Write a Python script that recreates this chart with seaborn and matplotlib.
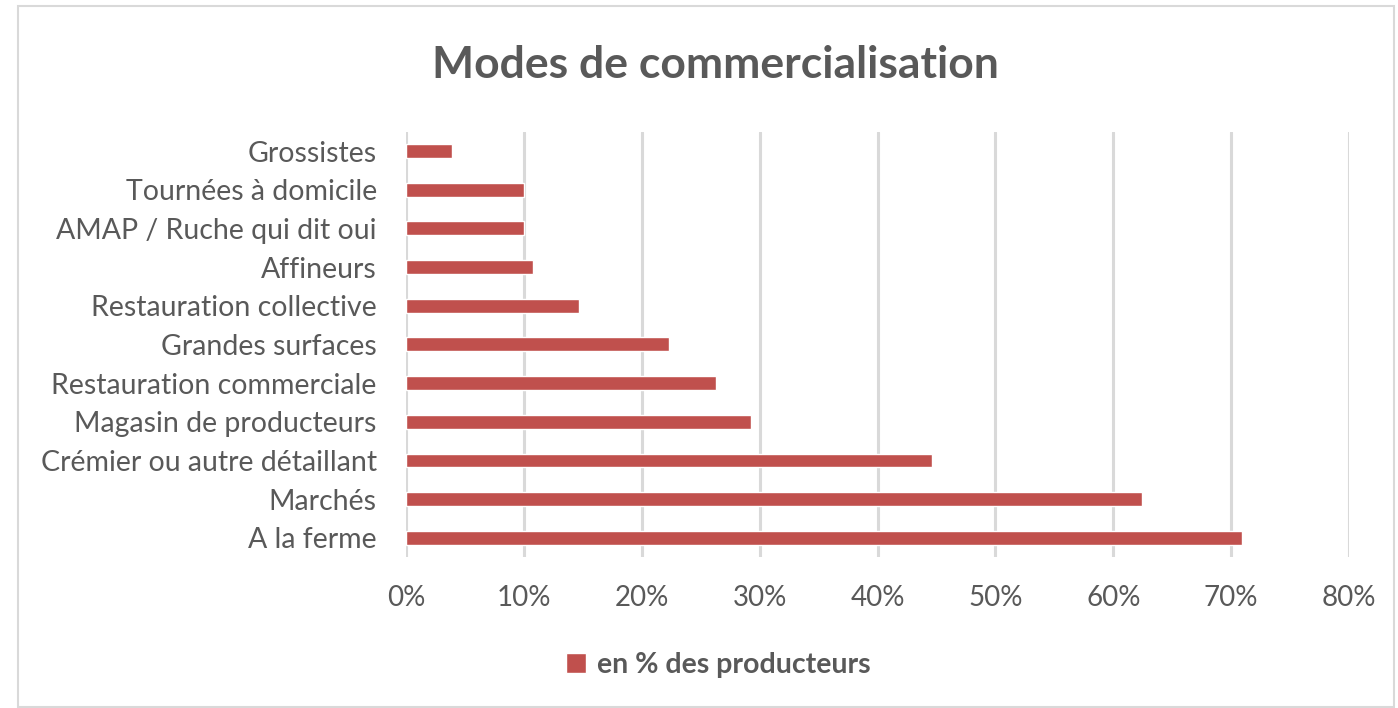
import pandas as pd
import matplotlib.pyplot as plt
import seaborn as sns
from matplotlib.patches import Rectangle
from matplotlib.ticker import PercentFormatter

categories = ["Grossistes", "Tournées à domicile", "AMAP / Ruche qui dit oui", "Affineurs",
              "Restauration collective", "Grandes surfaces", "Restauration commerciale",
              "Magasin de producteurs", "Crémier ou autre détaillant", "Marchés", "A la ferme"]
values = [3.9, 10.0, 10.0, 10.8, 14.7, 22.3, 26.3, 29.3, 44.6, 62.4, 70.9]
series_name = "en % des producteurs"

df = pd.DataFrame({"mode": categories, "pct": values, "serie": series_name})

sns.set_style("white")
plt.rcParams["font.family"] = ["Lato", "DejaVu Sans"]
grey = "#595959"

fig = plt.figure(figsize=(13.98, 7.08), dpi=100)
ax = fig.add_axes([0.2904, 0.213, 0.6746, 0.601])

sns.barplot(data=df, x="pct", y="mode", hue="serie", palette=["#C0504D"],
            saturation=1, width=0.36, orient="h", ax=ax, zorder=3)

ax.set_xlim(0, 80)
ax.set_xticks(range(0, 81, 10))
ax.xaxis.set_major_formatter(PercentFormatter(decimals=0))
ax.grid(axis="x", color="#D9D9D9", linewidth=2.2, zorder=0)
ax.set_axisbelow(True)
for s in ax.spines.values():
    s.set_visible(False)
ax.set_xlabel("")
ax.set_ylabel("")
ax.tick_params(axis="x", labelsize=20, colors=grey, length=0, pad=20)
ax.tick_params(axis="y", labelsize=20.5, colors=grey, length=0, pad=21)

fig.suptitle("Modes de commercialisation", x=0.512, y=0.937, fontsize=32,
             fontweight="bold", color=grey)

leg = ax.legend(loc="center", frameon=False, handlelength=0.7, handleheight=0.7,
                handletextpad=0.4, prop={"weight": "bold", "size": 20.5})
leg.set_bbox_to_anchor((0.514, 1 - 665 / 708), transform=fig.transFigure)
for t in leg.get_texts():
    t.set_color(grey)

fig.patches.append(Rectangle((0.013, 0.002), 0.984, 0.99, transform=fig.transFigure,
                             fill=False, edgecolor="#D9D9D9", linewidth=1.5))

plt.savefig("out.png", dpi=100)
